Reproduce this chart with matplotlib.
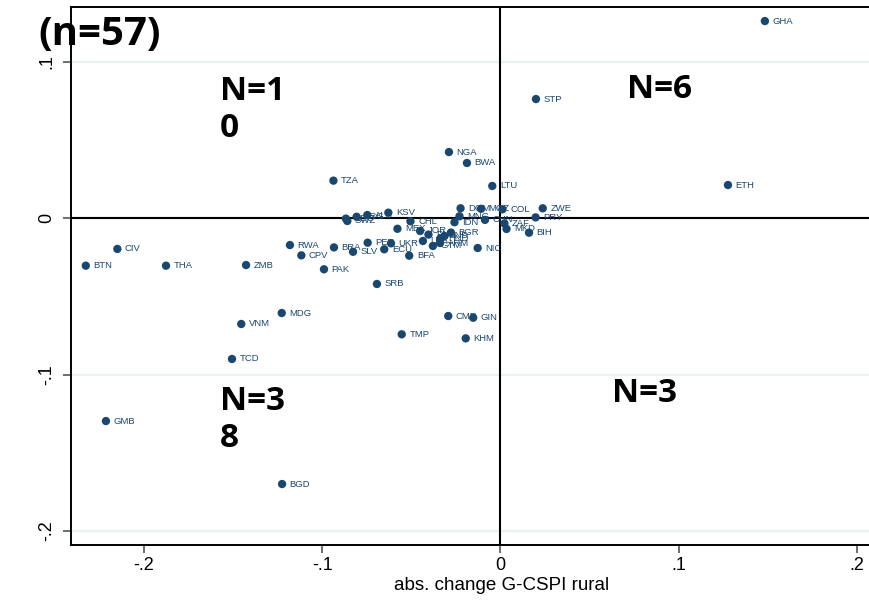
import matplotlib
matplotlib.use("Agg")
import matplotlib.pyplot as plt

# ---- data ----
countries = ["GHA", "STP", "ETH", "ZWE", "PRY", "COL",
             "ZAF", "MKD", "BIH",
             "NGA", "BWA", "TZA", "LTU", "DOM", "MOZ", "KSV", "ALB", "ARG", "MNG",
             "CIV", "BTN", "THA", "ZMB", "RWA", "CPV", "BRA", "PAK", "MDG", "VNM",
             "TCD", "GMB", "BGD", "SRB", "CMR", "GIN", "KHM", "TMP", "SLV", "PER",
             "UKR", "ECU", "BFA", "MEX", "CHL", "SWZ", "GEO", "NIC", "IDN", "CHN",
             "BGR", "IND", "HND", "ARM", "GTM", "PHL", "JOR", "LKA"]
x_rural = [0.1483, 0.0199, 0.1276, 0.0237, 0.0197, 0.0011,
           0.0022, 0.0034, 0.0160,
           -0.0289, -0.0188, -0.0937, -0.0046, -0.0224, -0.0109, -0.0629, -0.0747, -0.0807, -0.0230,
           -0.2149, -0.2326, -0.1876, -0.1427, -0.1181, -0.1117, -0.0934, -0.0990, -0.1227, -0.1454,
           -0.1506, -0.2213, -0.1225, -0.0693, -0.0293, -0.0153, -0.0195, -0.0554, -0.0827, -0.0745,
           -0.0614, -0.0652, -0.0512, -0.0578, -0.0505, -0.0859, -0.0867, -0.0128, -0.0258, -0.0087,
           -0.0278, -0.0314, -0.0337, -0.0339, -0.0379, -0.0404, -0.0451, -0.0435]
y_urban = [0.1262, 0.0763, 0.0213, 0.0064, 0.0006, 0.0058,
           -0.0033, -0.0068, -0.0092,
           0.0424, 0.0354, 0.0241, 0.0207, 0.0064, 0.0061, 0.0036, 0.0021, 0.0010, 0.0013,
           -0.0196, -0.0303, -0.0303, -0.0299, -0.0171, -0.0237, -0.0186, -0.0326, -0.0606, -0.0676,
           -0.0900, -0.1297, -0.1700, -0.0420, -0.0625, -0.0636, -0.0768, -0.0742, -0.0214, -0.0156,
           -0.0160, -0.0198, -0.0239, -0.0067, -0.0019, -0.0017, -0.0002, -0.0190, -0.0025, -0.0010,
           -0.0091, -0.0113, -0.0129, -0.0158, -0.0177, -0.0104, -0.0081, -0.0145]

quadrant_labels = ["N=1\n0", "N=6", "N=3\n8", "N=3"]
quadrant_pos = [(-0.1573, 0.0917), (0.0709, 0.0930), (-0.1573, -0.1067), (0.0625, -0.1014)]

xticks = [-0.2, -0.1, 0, 0.1, 0.2]
xticklabels = ["-.2", "-.1", "0", ".1", ".2"]
yticks = [-0.2, -0.1, 0, 0.1]
yticklabels = ["-.2", "-.1", "0", ".1"]

title_text = "(n=57)"
xlabel_text = "abs. change G-CSPI rural"

navy = "#1a476f"

W, H = 869, 605
fig = plt.figure(figsize=(W / 100, H / 100), dpi=100)
fig.patch.set_facecolor("white")
left_px, right_px, top_px, bottom_px = 71, 933, 7.3, 545
ax = fig.add_axes([left_px / W, 1 - bottom_px / H, (right_px - left_px) / W, (bottom_px - top_px) / H])

ax.set_xlim(-0.2409, 0.2426)
ax.set_ylim(-0.2090, 0.1350)

# grid lines at y ticks
for yt in yticks:
    ax.axhline(yt, color="#eaf2f3", lw=1.6, zorder=0)

ax.axvline(0, color="black", lw=1.5, zorder=1)
ax.axhline(0, color="black", lw=1.5, zorder=1)

ax.scatter(x_rural, y_urban, s=36, color=navy, edgecolors="none", zorder=3)
for c, xv, yv in zip(countries, x_rural, y_urban):
    ax.annotate(c, (xv, yv), xytext=(5.5, 0), textcoords="offset points",
                va="center", ha="left", fontsize=6.8, color=navy,
                family=["Liberation Sans", "DejaVu Sans"], zorder=4)

for txt, (qx, qy) in zip(quadrant_labels, quadrant_pos):
    ax.text(qx, qy, txt, ha="left", va="top", fontsize=24, fontweight="bold",
            family=["Open Sans", "DejaVu Sans"], linespacing=1.15, color="black", zorder=5)

ax.set_xticks(xticks)
ax.set_xticklabels(xticklabels, family=["Liberation Sans", "DejaVu Sans"], fontsize=13)
ax.set_yticks(yticks)
ax.set_yticklabels(yticklabels, family=["Liberation Sans", "DejaVu Sans"], fontsize=13,
                   rotation=90, va="center")
ax.tick_params(axis="both", direction="out", length=6, width=1.2, color="#555555", pad=3)
ax.tick_params(axis="y", pad=5)

for sp in ax.spines.values():
    sp.set_linewidth(1.4)
    sp.set_color("black")
ax.spines["right"].set_visible(False)

ax.set_xlabel(xlabel_text, family=["Liberation Sans", "DejaVu Sans"], fontsize=13.5, labelpad=2)

fig.text(38 / W, 1 - 45 / H, title_text, ha="left", va="baseline", fontsize=29,
         fontweight="bold", family=["Open Sans", "DejaVu Sans"], color="black")

fig.savefig("out.png", dpi=100, facecolor="white")
